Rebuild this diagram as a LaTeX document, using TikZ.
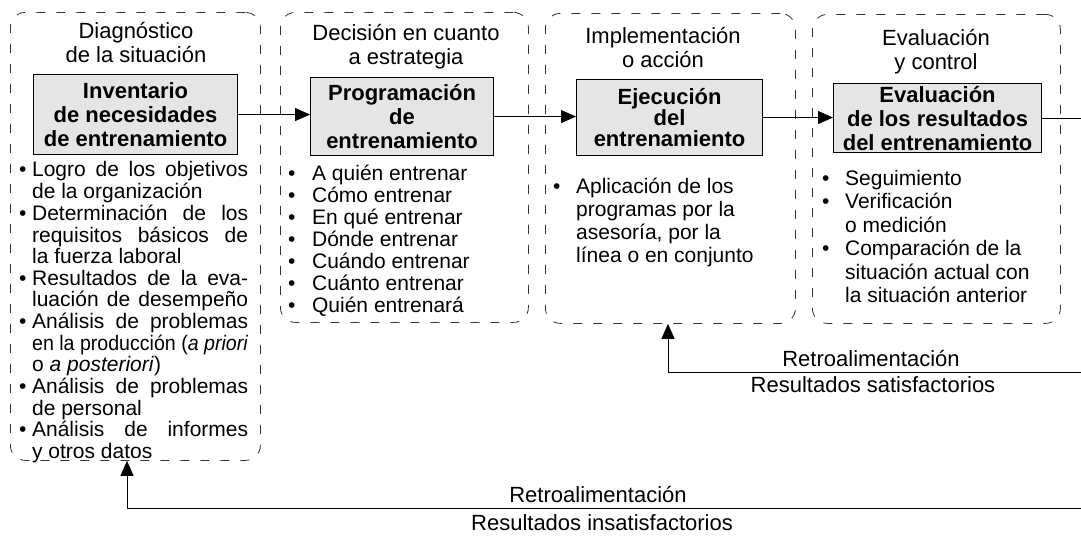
\documentclass[tikz,border=0pt]{standalone}
\usepackage{fontspec}
\setmainfont{Liberation Sans}
\usepackage{graphicx}
\usetikzlibrary{arrows.meta}
\newcommand\jl[1]{\makebox[216pt][s]{#1}}
\begin{document}
\begin{tikzpicture}[x=1pt,y=-1pt,
  region/.style={draw=black!80, dash pattern=on 9pt off 11pt, rounded corners=15pt, line width=0.8pt, anchor=north west, inner sep=0},
  core/.style={draw, line width=1.1pt, fill=black!10, inner sep=0, anchor=north west, align=center, font=\bfseries\fontsize{22}{24}\selectfont},
  ttl/.style={inner sep=0, anchor=north, font=\fontsize{22}{24}\selectfont},
  lst/.style={inner sep=0, anchor=north west},
  lab/.style={inner sep=0, anchor=base, font=\fontsize{22}{24}\selectfont},
  arr/.style={-{Triangle[length=15pt,width=13pt]}, line width=0.9pt},
  ln/.style={line width=0.9pt}]
\useasboundingbox (0,0) rectangle (1081,536);

% dashed regions
\node[region, minimum width=250pt, minimum height=448pt] (r1) at (10,12) {};
\node[region, minimum width=248pt, minimum height=310pt] (r2) at (280,12) {};
\node[region, minimum width=250pt, minimum height=310pt] (r3) at (545,13) {};
\node[region, minimum width=248pt, minimum height=309pt] (r4) at (812,14) {};

% titles
\node[ttl] (t1) at (136,21.2) {\begin{tabular}{@{}c@{}}Diagnóstico\\de la situación\end{tabular}};
\node[ttl] (t2) at (406,23.2) {\begin{tabular}{@{}c@{}}Decisión en cuanto\\a estrategia\end{tabular}};
\node[ttl] (t3) at (663,26.2) {\begin{tabular}{@{}c@{}}Implementación\\o acción\end{tabular}};
\node[ttl] (t4) at (936,28.2) {\begin{tabular}{@{}c@{}}Evaluación\\y control\end{tabular}};

% core boxes
\node[core, minimum width=204pt, minimum height=80pt] (c1) at (33,74) {Inventario\\de necesidades\\de entrenamiento};
\node[core, minimum width=183pt, minimum height=78pt] (c2) at (310,77) {Programación\\de\\entrenamiento};
\node[core, minimum width=186pt, minimum height=76pt, font=\bfseries\fontsize{22}{21}\selectfont] (c3) at (576,79) {Ejecución\\del\\entrenamiento};
\node[core, minimum width=208pt, minimum height=69pt] (c4) at (833,83) {Evaluación\\de los resultados\\del entrenamiento};

% bullet lists
\node[lst] (l1) at (19,161.3) {\fontsize{21}{21}\selectfont
\begin{tabular}{@{}l@{\hspace{5.6pt}}l@{}}
\textbullet & \jl{Logro de los objetivos}\\
 & de la organización\\
\textbullet & \jl{Determinación de los}\\
 & \jl{requisitos básicos de}\\
 & la fuerza laboral\\
\textbullet & \jl{Resultados de la eva-}\\
 & \jl{luación de desempeño}\\
\textbullet & \jl{Análisis de problemas}\\
 & \resizebox{216pt}{\height}{en la producción (\textit{a priori}}\\
 & o \textit{a posteriori})\\
\textbullet & \jl{Análisis de problemas}\\
 & de personal\\
\textbullet & \jl{Análisis de informes}\\
 & y otros datos
\end{tabular}};

\node[lst] (l2) at (288,164.6) {\fontsize{21}{22}\selectfont
\begin{tabular}{@{}l@{\hspace{16.6pt}}l@{}}
\textbullet & A quién entrenar\\
\textbullet & Cómo entrenar\\
\textbullet & En qué entrenar\\
\textbullet & Dónde entrenar\\
\textbullet & Cuándo entrenar\\
\textbullet & Cuánto entrenar\\
\textbullet & Quién entrenará
\end{tabular}};

\node[lst] (l3) at (553,176.9) {\fontsize{21}{23}\selectfont
\begin{tabular}{@{}l@{\hspace{15.6pt}}l@{}}
\textbullet & Aplicación de los\\
 & programas por la\\
 & asesoría, por la\\
 & línea o en conjunto
\end{tabular}};

\node[lst] (l4) at (822,168.5) {\fontsize{21}{23.5}\selectfont
\begin{tabular}{@{}l@{\hspace{15.6pt}}l@{}}
\textbullet & Seguimiento\\
\textbullet & Verificación\\
 & o medición\\
\textbullet & Comparación de la\\
 & situación actual con\\
 & la situación anterior
\end{tabular}};

% forward arrows
\draw[arr] (c1.east) -- (c1.east -| c2.west);
\draw[arr] (c2.east) -- (c2.east -| c3.west);
\draw[arr] (c3.east) -- (c3.east -| c4.west);
\coordinate (e1) at (1081,118);
\draw[ln] (c4.east) -- (c4.east -| e1);

% feedback loops
\coordinate (f1) at (1081,372);
\coordinate (fb1) at (668,372);
\draw[arr] (f1) -- (fb1) -- (fb1 |- r3.south);
\coordinate (f2) at (1081,508);
\coordinate (fb2) at (127,508);
\draw[arr] (f2) -- (fb2) -- (fb2 |- r1.south);

% feedback labels
\node[lab] (s1) at (871,366) {Retroalimentación};
\node[lab] (s2) at (873,392) {Resultados satisfactorios};
\node[lab] (s3) at (598,502) {Retroalimentación};
\node[lab] (s4) at (602,530) {Resultados insatisfactorios};
\end{tikzpicture}
\end{document}
